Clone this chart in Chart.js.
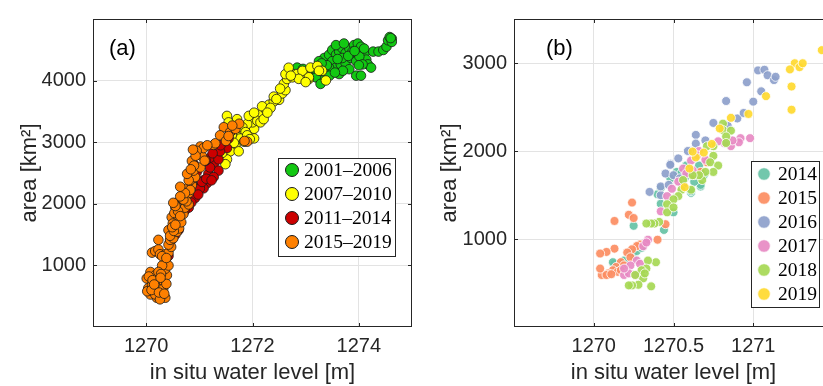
<!DOCTYPE html>
<html>
<head>
<meta charset="utf-8">
<script src="https://cdn.jsdelivr.net/npm/chart.js@4.4.0/dist/chart.umd.min.js"></script>
<style>
html, body { margin: 0; padding: 0; background: #fff; overflow: hidden; }
#wrap { position: relative; width: 823px; height: 386px; overflow: hidden; }
#boxA { position: absolute; left: 0; top: 0; width: 420px; height: 386px; }
#boxB { position: absolute; left: 420px; top: 0; width: 421px; height: 386px; }
</style>
</head>
<body>
<div id="wrap">
  <div id="boxA"><canvas id="chartA"></canvas></div>
  <div id="boxB"><canvas id="chartB"></canvas></div>
</div>
<script>
// ---- panel (a): in situ level vs area, grouped by period ----
const labelsA = ['2001–2006', '2007–2010', '2011–2014', '2015–2019'];
const colorsA = ['#12c812', '#ffff00', '#cc0000', '#ff8000'];
const xTicksA = [1270, 1272, 1274];
const yTicksA = [1000, 2000, 3000, 4000];

const lvl0106 = [[1273.35,4367],[1273.44,4419],[1273.50,4497],[1273.57,4419],[1273.63,4471],[1273.69,4524],[1273.75,4445],[1273.82,4524],[1273.91,4576],[1273.98,4602],[1274.04,4550],[1274.11,4445],[1274.14,4341],[1274.17,4263],[1274.23,4211],[1273.95,4080],[1274.04,4080],[1274.27,4471],[1274.37,4471],[1274.46,4497],[1274.52,4550],[1274.55,4654],[1274.58,4707],[1274.62,4680],[1274.62,4628],[1274.60,4690],[1273.50,4315],[1273.57,4211],[1273.66,4263],[1273.75,4289],[1273.85,4367],[1273.95,4315],[1274.01,4393],[1273.44,4211],[1273.38,4106],[1273.28,4002],[1273.19,4054],[1273.06,4159],[1273.25,4315],[1273.63,4106],[1273.82,4185],[1274.07,4263],[1273.69,4367],[1273.57,4576],[1273.72,4602],[1273.88,4471],[1272.84,4211],[1273.28,3946],[1273.40,4250],[1273.15,4200],[1273.80,4400],[1273.92,4480],[1274.10,4520],[1273.60,4350],[1273.30,4280],[1273.70,4160],[1274.00,4250],[1273.45,4080],[1273.55,4130],[1272.95,4190]];

const lvl0710 = [[1271.84,3062],[1271.96,3140],[1272.03,3218],[1272.00,3322],[1272.15,3453],[1272.25,3531],[1272.31,3609],[1272.40,3661],[1272.50,3688],[1272.56,3792],[1272.62,3844],[1272.59,3948],[1272.65,4026],[1272.62,4105],[1272.75,4053],[1272.81,4105],[1272.91,4131],[1273.00,4079],[1273.06,4026],[1272.18,3583],[1272.34,3557],[1272.40,3740],[1272.52,3870],[1272.09,3348],[1271.90,3296],[1271.77,3192],[1271.71,3088],[1272.03,3062],[1272.15,3322],[1272.21,3374],[1272.68,4209],[1271.52,3427],[1271.71,3374],[1271.81,3243],[1271.87,3164],[1271.93,3427],[1272.03,3479],[1271.77,3060],[1271.68,2956],[1271.58,2852],[1271.52,2721],[1271.49,2643],[1271.74,2852],[1271.84,3008],[1271.90,3112],[1271.61,3112],[1271.55,3322],[1271.43,2826],[1272.84,4106],[1272.94,4159],[1273.09,4211],[1273.22,4237],[1273.31,4159],[1273.38,4002],[1273.06,4054],[1273.25,4159],[1272.87,4028],[1273.00,3976],[1272.45,3700],[1272.28,3480],[1272.72,4080],[1271.65,2990],[1271.95,3050]];

const lvl1114 = [[1270.89,2434],[1271.08,2382],[1271.17,2486],[1271.27,2643],[1271.20,2747],[1271.33,2800],[1271.30,2904],[1271.36,2721],[1271.14,2330],[1271.02,2277],[1270.95,2512],[1271.36,2538],[1271.52,2904],[1271.55,3060],[1271.61,3190],[1271.39,2852],[1270.86,2330],[1271.08,2251],[1271.27,2434],[1271.20,2590],[1270.61,1572],[1270.48,1415],[1270.42,1154],[1270.67,1833],[1270.80,1937],[1270.92,2094],[1271.01,2250],[1271.05,2355],[1271.13,2407],[1271.23,2381],[1270.55,1500],[1270.72,1880],[1270.85,2020],[1270.98,2150],[1271.12,2700],[1271.25,2820],[1270.45,1380],[1271.40,2950],[1270.90,2640],[1271.00,2800],[1270.20,600],[1270.37,1100]];

const lvl1519 = [[1270.08,893],[1270.01,788],[1270.04,632],[1270.11,684],[1270.17,841],[1270.23,736],[1270.26,632],[1270.30,528],[1270.36,475],[1270.20,475],[1270.14,580],[1270.33,736],[1270.39,841],[1270.36,945],[1270.42,998],[1270.30,998],[1270.23,893],[1270.08,528],[1270.17,528],[1270.26,449],[1270.20,632],[1270.05,820],[1270.12,760],[1270.28,860],[1270.32,620],[1270.02,580],[1270.10,600],[1270.24,560],[1270.38,700],[1270.34,540],[1270.27,800],[1270.15,690],[1270.11,1207],[1270.17,1233],[1270.23,1259],[1270.26,1181],[1270.36,1181],[1270.42,1207],[1270.23,1415],[1270.30,1150],[1270.47,1300],[1270.38,1120],[1270.42,1337],[1270.45,1415],[1270.48,1520],[1270.42,1572],[1270.51,1624],[1270.55,1729],[1270.48,1781],[1270.58,1833],[1270.61,1911],[1270.55,1937],[1270.67,1963],[1270.64,2041],[1270.73,2094],[1270.70,2146],[1270.80,2172],[1270.77,2250],[1270.86,2303],[1270.83,2381],[1270.92,2433],[1270.61,1755],[1270.70,1833],[1270.73,1937],[1270.80,1989],[1270.51,1441],[1270.58,1546],[1270.50,1680],[1270.45,1480],[1270.53,1850],[1270.62,1600],[1270.66,1700],[1270.57,2010],[1270.68,2080],[1270.60,1880],[1270.52,1560],[1270.49,1620],[1270.64,1800],[1270.76,2040],[1270.55,1660],[1270.55,1964],[1270.70,2068],[1270.83,2225],[1270.80,2382],[1270.89,2538],[1271.02,2590],[1270.86,2695],[1271.05,2773],[1271.02,2930],[1271.08,2904],[1271.27,2956],[1271.30,2982],[1271.46,3243],[1271.58,3164],[1271.68,3216],[1271.90,3008],[1271.39,3112],[1270.73,2173],[1270.64,2277],[1270.77,2486],[1270.64,2120],[1270.51,2016],[1270.90,2620],[1271.10,2700],[1271.50,3020],[1271.75,3300],[1271.85,3020],[1271.62,3270],[1270.95,2860],[1271.15,2950],[1271.55,3100],[1270.84,2560],[1270.93,2780],[1270.88,2880]];

// ---- panel (b): single years 2014-2019 ----
const labelsB = ['2014', '2015', '2016', '2017', '2018', '2019'];
const colorsB = ['102,194,165', '252,141,98', '141,160,203', '231,138,195', '166,216,84', '255,217,47'];
const xTicksB = [1270, 1270.5, 1271];
const yTicksB = [1000, 2000, 3000];

const yr2014 = [[1270.25,1150],[1270.42,1400],[1270.40,1509],[1270.48,1689],[1270.25,810],[1270.23,846],[1270.27,864],[1270.19,755],[1270.13,718],[1270.16,682],[1270.12,736],[1270.42,1580],[1270.52,1762],[1270.58,1835],[1270.67,1597],[1270.61,1524],[1270.57,1689],[1270.69,1725],[1270.44,1103],[1270.50,1303],[1270.61,1543],[1270.67,1615],[1270.66,1835],[1270.30,900],[1270.55,1750],[1270.63,1650]];
const yr2015 = [[1270.24,1414],[1270.22,1275],[1270.25,1238],[1270.13,1205],[1270.45,1168],[1270.40,992],[1270.29,938],[1270.27,920],[1270.24,883],[1270.21,846],[1270.13,890],[1270.08,853],[1270.04,835],[1270.17,737],[1270.14,682],[1270.12,645],[1270.09,609],[1270.05,591],[1270.04,664],[1270.15,627],[1270.23,792],[1270.19,700],[1270.17,645],[1270.08,591],[1270.71,1872],[1270.63,1725],[1270.67,1762],[1270.11,600]];
const yr2016 = [[1271.03,2916],[1271.07,2923],[1271.09,2861],[1271.13,2806],[1271.14,2843],[1270.96,2781],[1271.05,2678],[1271.00,2561],[1270.83,2568],[1270.90,2370],[1270.94,2432],[1270.75,2319],[1270.84,2286],[1270.64,2183],[1270.64,2084],[1270.61,2000],[1270.53,1916],[1270.48,1854],[1270.35,1535],[1270.42,1498],[1270.42,1597],[1270.45,1744],[1270.48,1843],[1270.47,1615],[1270.50,1725],[1270.54,1689],[1270.59,2000],[1270.56,1615],[1270.58,1762],[1270.70,2120]];
const yr2017 = [[1270.98,2146],[1270.92,2146],[1270.91,2099],[1270.86,2055],[1270.82,2091],[1270.78,2110],[1270.66,2000],[1270.61,1891],[1270.56,1800],[1270.58,1744],[1270.53,1652],[1270.49,1571],[1270.46,1487],[1270.42,1314],[1270.34,992],[1270.31,918],[1270.27,755],[1270.29,718],[1270.23,700],[1270.19,591],[1270.22,609],[1270.26,591],[1270.19,664],[1270.65,1950],[1270.70,1900],[1270.62,1780],[1270.33,960],[1270.87,2120]];
const yr2018 = [[1270.81,2311],[1270.81,2238],[1270.86,2231],[1270.83,2165],[1270.83,2091],[1270.75,2055],[1270.71,2055],[1270.75,1945],[1270.73,1872],[1270.78,1835],[1270.75,1762],[1270.70,1762],[1270.68,1670],[1270.66,1725],[1270.62,1725],[1270.56,1670],[1270.61,1560],[1270.55,1560],[1270.53,1487],[1270.50,1451],[1270.46,1395],[1270.46,1303],[1270.50,1359],[1270.41,1194],[1270.38,1176],[1270.36,1176],[1270.33,1176],[1270.39,736],[1270.34,755],[1270.33,664],[1270.30,645],[1270.31,553],[1270.26,591],[1270.28,480],[1270.24,473],[1270.22,473],[1270.36,462],[1270.32,609]];
const yr2019 = [[1271.26,2997],[1271.29,2953],[1271.31,2997],[1271.23,2927],[1271.24,2733],[1271.24,2469],[1271.08,2623],[1270.97,2421],[1270.86,2377],[1270.79,2256],[1270.74,2080],[1270.69,1982],[1270.64,1927],[1270.62,1993],[1270.60,1800],[1270.57,1589],[1271.43,3146]];

const SANS = '"Liberation Sans", Arial, sans-serif';
const SERIF = '"Liberation Serif", "Times New Roman", serif';
const INK = '#262626';

const toXY = arr => arr.map(([x, y]) => ({ x, y }));

// box, inward ticks, panel letter and legend, drawn the matlab way
const matlabBox = {
  id: 'matlabBox',
  afterDraw(chart, args, o) {
    const { ctx, chartArea: a, scales } = chart;
    ctx.save();
    ctx.strokeStyle = INK;
    ctx.lineWidth = 1;
    ctx.strokeRect(a.left + 0.5, a.top + 0.5, a.right - a.left - 1, a.bottom - a.top - 1);
    ctx.beginPath();
    scales.x.ticks.forEach(t => {
      const px = Math.round(scales.x.getPixelForValue(t.value)) + 0.5;
      ctx.moveTo(px, a.bottom); ctx.lineTo(px, a.bottom - 4);
      ctx.moveTo(px, a.top); ctx.lineTo(px, a.top + 4);
    });
    scales.y.ticks.forEach(t => {
      const py = Math.round(scales.y.getPixelForValue(t.value)) + 0.5;
      ctx.moveTo(a.left, py); ctx.lineTo(a.left + 4, py);
      ctx.moveTo(a.right, py); ctx.lineTo(a.right - 4, py);
    });
    ctx.stroke();

    ctx.fillStyle = '#000';
    ctx.font = '22px ' + SANS;
    ctx.textBaseline = 'middle';
    ctx.textAlign = 'left';
    ctx.fillText(o.tag, a.left + o.tagDx, a.top + o.tagDy);

    const L = o.legend;
    const bx = a.left + L.dx, by = a.top + L.dy;
    ctx.fillStyle = '#fff';
    ctx.fillRect(bx, by, L.w, L.h);
    ctx.strokeStyle = INK;
    ctx.strokeRect(bx + 0.5, by + 0.5, L.w, L.h);
    ctx.font = '19.5px ' + SERIF;
    chart.data.datasets.forEach((ds, i) => {
      const cy = by + L.first + i * L.step;
      ctx.beginPath();
      ctx.arc(bx + L.mx, cy, L.r, 0, Math.PI * 2);
      ctx.fillStyle = ds.backgroundColor;
      ctx.fill();
      ctx.lineWidth = 1;
      ctx.strokeStyle = ds.borderColor;
      ctx.stroke();
      ctx.fillStyle = '#000';
      ctx.fillText(ds.label, bx + L.tx, cy + 1);
    });
    ctx.restore();
  }
};

function axes(xMin, xMax, xTicks, yMax, yTicks, yWidth) {
  const tickFont = { family: SANS, size: 20 };
  const titleFont = { family: SANS, size: 22 };
  return {
    x: {
      type: 'linear', min: xMin, max: xMax,
      afterBuildTicks: s => { s.ticks = xTicks.map(v => ({ value: v })); },
      afterFit: s => { s.height = 59; },
      grid: { color: '#e3e3e3', drawTicks: false },
      border: { display: false },
      ticks: { font: tickFont, color: INK, padding: 7, autoSkip: false, maxRotation: 0, callback: v => String(v) },
      title: { display: true, text: 'in situ water level [m]', font: titleFont, color: INK, padding: { top: 0, bottom: 0 } }
    },
    y: {
      type: 'linear', min: 0, max: yMax,
      afterBuildTicks: s => { s.ticks = yTicks.map(v => ({ value: v })); },
      afterFit: s => { s.width = yWidth; },
      grid: { color: '#e3e3e3', drawTicks: false },
      border: { display: false },
      ticks: { font: tickFont, color: INK, padding: 7, autoSkip: false, callback: v => String(v) },
      title: { display: true, text: 'area [km²]', font: titleFont, color: INK, padding: { top: 17, bottom: 0 } }
    }
  };
}

const dataA = [lvl0106, lvl0710, lvl1114, lvl1519];
new Chart(document.getElementById('chartA'), {
  type: 'scatter',
  data: {
    datasets: dataA.map((d, i) => ({
      label: labelsA[i],
      data: toXY(d),
      order: dataA.length - i,
      backgroundColor: colorsA[i],
      borderColor: '#1a1a1a',
      borderWidth: 0.8,
      pointRadius: 4.8
    }))
  },
  options: {
    responsive: true, maintainAspectRatio: false, animation: false,
    layout: { padding: { top: 8, right: 8, left: 0, bottom: 0 } },
    scales: axes(1269, 1275, xTicksA, 5000, yTicksA, 93),
    plugins: {
      legend: { display: false }, tooltip: { enabled: false },
      matlabBox: { tag: '(a)', tagDx: 16, tagDy: 30,
        legend: { dx: 185, dy: 139, w: 117, h: 98, first: 12, step: 24, mx: 14, tx: 26, r: 6.5 } }
    }
  },
  plugins: [matlabBox]
});

const dataB = [yr2014, yr2015, yr2016, yr2017, yr2018, yr2019];
new Chart(document.getElementById('chartB'), {
  type: 'scatter',
  data: {
    datasets: dataB.map((d, i) => ({
      label: labelsB[i],
      data: toXY(d),
      order: dataB.length - i,
      backgroundColor: 'rgba(' + colorsB[i] + ',0.92)',
      borderColor: 'rgba(255,255,255,0.8)',
      borderWidth: 1,
      pointRadius: 4.5
    }))
  },
  options: {
    responsive: true, maintainAspectRatio: false, animation: false,
    layout: { padding: { top: 8, right: 8, left: 0, bottom: 0 } },
    scales: axes(1269.5, 1271.5, xTicksB, 3500, yTicksB, 94),
    plugins: {
      legend: { display: false }, tooltip: { enabled: false },
      matlabBox: { tag: '(b)', tagDx: 32, tagDy: 30,
        legend: { dx: 237, dy: 142, w: 68, h: 146, first: 13, step: 24, mx: 13, tx: 27, r: 6.3 } }
    }
  },
  plugins: [matlabBox]
});
</script>
</body>
</html>
